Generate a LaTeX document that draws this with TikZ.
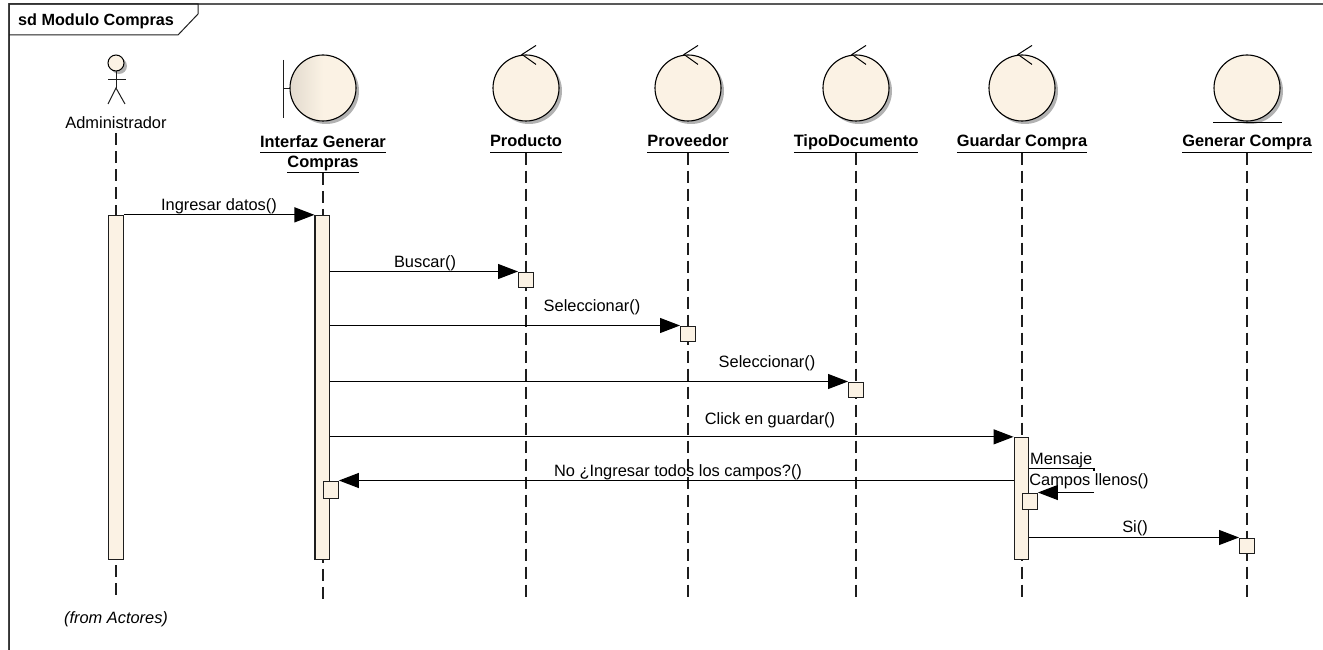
\documentclass[tikz,border=0pt]{standalone}
\usepackage{fontspec}
\setmainfont{Liberation Sans}
\usepackage{xcolor}
\usetikzlibrary{arrows.meta,shadows}
\definecolor{umlcream}{RGB}{251,242,228}
\definecolor{umlshade}{RGB}{226,218,206}
\definecolor{umlline}{RGB}{30,30,30}
\newcommand{\lifeunder}[1]{\underline{#1\vphantom{p}}}
\tikzset{
	lifeline/.style={draw=umlline,line width=1.2pt,dash pattern=on 12pt off 6pt},
	activation/.style={draw=umlline,fill=umlcream,line width=1.3pt,inner sep=0pt,minimum width=14.6pt},
	callbox/.style={activation,minimum height=15pt,anchor=north west},
	lifecircle/.style={circle,draw=black,fill=umlcream,line width=1.1pt,inner sep=0pt,minimum size=66pt,
		drop shadow={shadow xshift=3pt,shadow yshift=-3pt,fill=black!30,opacity=1}},
	message/.style={draw=black,line width=1.2pt,-{Triangle[length=20pt,width=15pt]}},
	msgtext/.style={font=\fontsize{16.4}{20}\selectfont,inner sep=0pt,anchor=base},
	lifename/.style={font=\fontsize{16.4}{20}\selectfont\bfseries,inner sep=0pt,align=center,anchor=base}
}

\begin{document}
\begin{tikzpicture}[x=1pt,y=-1pt]
	\useasboundingbox (0,0) rectangle (1323,650);
	
	\coordinate (adminX) at (116,600);
	\coordinate (interfazX) at (323,600);
	\coordinate (productoX) at (526,600);
	\coordinate (proveedorX) at (688,600);
	\coordinate (tipoX) at (856,600);
	\coordinate (guardarX) at (1022,600);
	\coordinate (generarX) at (1247,600);
	
	% marco
	\draw[black!65,line width=1.2pt] (9,650) -- (9,4) -- (1323,4);
	\draw[umlline,line width=1pt] (9,650) -- (9,4) -- (198,4) -- (198,14) -- (178,35) -- (9,35);
	\node[font=\fontsize{16.2}{20}\selectfont\bfseries,inner sep=0pt,anchor=base west] (frameTitle) at (18,26) {sd Modulo Compras};
	
	% cabeceras
	\draw[umlline,line width=1pt] (283,60) -- (283,118);
	\draw[umlline,line width=1pt] (283,89) -- (291,89);
	\node[lifecircle,left color=umlshade,right color=umlcream,middle color=umlcream] (interfaz) at (323,88) {};
	\node[lifecircle] (producto) at (526,88) {};
	\node[lifecircle] (proveedor) at (688,88) {};
	\node[lifecircle] (tipo) at (856,88) {};
	\node[lifecircle] (guardar) at (1022,88) {};
	\node[lifecircle] (generar) at (1247,88) {};
	\foreach \ctrl in {producto,proveedor,tipo,guardar}
		\draw[black,line width=1pt] ([shift={(10,-9)}]\ctrl.north) -- ([shift={(-4,0)}]\ctrl.north) -- ([shift={(10,10)}]\ctrl.north);
	\draw[black,line width=1.1pt] (1213,122.5) -- (1282,122.5);
	
	% actor
	\node[circle,draw=black,fill=umlcream,line width=1pt,inner sep=0pt,minimum size=16pt,
		drop shadow={shadow xshift=3pt,shadow yshift=-3pt,fill=black!30,opacity=1}] (adminHead) at (116,63) {};
	\coordinate (adminHip) at (116,88);
	\draw[umlline,line width=1pt] (adminHead) -- (adminHip);
	\draw[umlline,line width=1pt] (108,79.5) -- (126,79.5);
	\draw[umlline,line width=1pt] (108,104) -- (adminHip) -- (125,104);
	
	\node[msgtext] (adminName) at (116,129) {Administrador};
	\node[lifename,anchor=center] (interfazName) at (323,154) {\lifeunder{Interfaz Generar}\\\lifeunder{Compras}};
	\node[lifename] (productoName) at (526,147) {\lifeunder{Producto}};
	\node[lifename] (proveedorName) at (688,147) {\lifeunder{Proveedor}};
	\node[lifename] (tipoName) at (856,147) {\lifeunder{TipoDocumento}};
	\node[lifename] (guardarName) at (1022,147) {\lifeunder{Guardar Compra}};
	\node[lifename] (generarName) at (1247,147) {\lifeunder{Generar Compra}};
	
	% lineas de vida
	\draw[lifeline] ([yshift=-4pt]adminName.south -| adminX) -- (adminX);
	\draw[lifeline] (interfazName.south -| interfazX) -- (interfazX);
	\draw[lifeline] (productoName.south -| productoX) -- (productoX);
	\draw[lifeline] (proveedorName.south -| proveedorX) -- (proveedorX);
	\draw[lifeline] (tipoName.south -| tipoX) -- (tipoX);
	\draw[lifeline] (guardarName.south -| guardarX) -- (guardarX);
	\draw[lifeline] (generarName.south -| generarX) -- (generarX);
	
	% activaciones
	\node[activation,minimum height=344pt] (actAdmin) at (116,387.5) {};
	\node[activation,minimum height=344pt] (actInterfaz) at (322.4,387.5) {};
	\node[activation,minimum height=122pt] (actGuardar) at (1021.5,498.5) {};
	\node[callbox] (boxProducto) at (518,271.5) {};
	\node[callbox] (boxProveedor) at (680,325.5) {};
	\node[callbox] (boxTipo) at (848,381.5) {};
	\node[callbox,minimum height=17pt] (boxInterfaz) at (323,480.5) {};
	\node[callbox,minimum height=16pt] (boxGuardar) at (1022,492.5) {};
	\node[callbox] (boxGenerar) at (1239,537.5) {};
	
	% mensajes
	\coordinate (selfCorner) at (1094,468.5);
	\draw[message] (actAdmin.north east) -- (actInterfaz.north west);
	\draw[message] (boxProducto.north west -| actInterfaz.east) -- (boxProducto.north west);
	\draw[message] (boxProveedor.north west -| actInterfaz.east) -- (boxProveedor.north west);
	\draw[message] (boxTipo.north west -| actInterfaz.east) -- (boxTipo.north west);
	\draw[message] (actGuardar.north west -| actInterfaz.east) -- (actGuardar.north west);
	\draw[message] (boxInterfaz.north east -| actGuardar.west) -- (boxInterfaz.north east);
	\draw[draw=black,line width=1.2pt] (selfCorner -| actGuardar.east) -- (selfCorner) -- (selfCorner |- boxGuardar.north east);
	\draw[message] (boxGenerar.north west -| actGuardar.east) -- (boxGenerar.north west);
	
	\node[msgtext] (msgIngresar) at (219,210) {Ingresar datos()};
	\node[msgtext] (msgBuscar) at (425,267) {Buscar()};
	\node[msgtext] (msgProveedor) at (592,311) {Seleccionar()};
	\node[msgtext] (msgTipo) at (767,367) {Seleccionar()};
	\node[msgtext] (msgGuardar) at (770,424) {Click en guardar()};
	\node[msgtext] (msgCampos) at (678,476) {No ¿Ingresar todos los campos?()};
	\node[msgtext,anchor=base west] (msgMensaje) at (1030,464) {Mensaje};
	\node[msgtext,anchor=center,fill=white,minimum height=22pt] (msgLlenos) at (1089,481.7) {Campos llenos()};
	\node[msgtext] (msgSi) at (1135,532) {Si()};
	\draw[message] (selfCorner |- boxGuardar.north east) -- (boxGuardar.north east);
	
	\node[msgtext,font=\fontsize{16.4}{20}\selectfont\itshape] (fromActores) at (116,623) {(from Actores)};
\end{tikzpicture}
\end{document}
